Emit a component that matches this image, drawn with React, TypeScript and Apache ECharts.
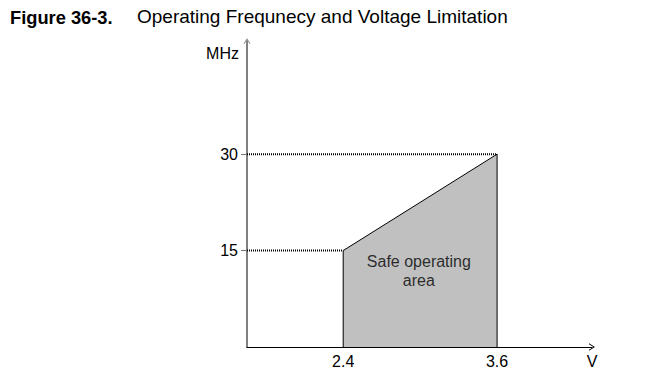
import React, { useEffect, useRef } from "react";
import * as echarts from "echarts";

const titleBold = "Figure 36-3.";
const titleText = "Operating Frequnecy and Voltage Limitation";
const yAxisName = "MHz";
const xAxisName = "V";
const voltageTicks = [2.4, 3.6];
const freqTicks = [15, 30];
const safeAreaVoltage = [2.4, 2.4, 3.6, 3.6];
const safeAreaFreq = [0, 15, 30, 0];
const areaLabel = "Safe operating\narea";
const areaLabelPos = [2.99, 11.9];
const xMin = 1.65;
const xMax = 4.34;
const yMin = 0;
const yMax = 47.6;

const FONT = "'Liberation Sans', Arial, sans-serif";
const CHEVRON = "path://M5,0 L10,8 L8.6,8 L5,2.2 L1.4,8 L0,8 Z";

export default function App() {
  const ref = useRef<HTMLDivElement>(null);
  useEffect(() => {
    if (!ref.current) return;
    const chart = echarts.init(ref.current, null, { renderer: "svg" });
    const polygon = safeAreaVoltage.map((v, i) => [v, safeAreaFreq[i]]);
    chart.setOption({
      animation: false,
      backgroundColor: "#ffffff",
      textStyle: { fontFamily: FONT },
      title: [
        {
          text: titleBold,
          left: 10,
          top: 8,
          padding: 0,
          textStyle: { fontFamily: FONT, fontWeight: "bold", fontSize: 18.3, color: "#000" },
        },
        {
          text: titleText,
          left: 137,
          top: 7,
          padding: 0,
          textStyle: { fontFamily: FONT, fontWeight: "normal", fontSize: 19, color: "#000" },
        },
      ],
      grid: { left: 247, right: 64, top: 41, bottom: 34, containLabel: false },
      xAxis: {
        type: "value",
        min: xMin,
        max: xMax,
        name: xAxisName,
        nameLocation: "end",
        nameGap: 0,
        nameTextStyle: {
          fontFamily: FONT,
          fontSize: 16,
          color: "#000",
          align: "center",
          verticalAlign: "top",
          padding: [6, 0, 0, 0],
        },
        splitLine: { show: false },
        axisTick: { show: false },
        axisLine: {
          show: true,
          lineStyle: { color: "#000", width: 1 },
          symbol: ["none", CHEVRON],
          symbolSize: [8, 6],
        },
        axisLabel: {
          customValues: voltageTicks,
          formatter: (v: number) => v.toFixed(1),
          fontFamily: FONT,
          fontSize: 16,
          color: "#000",
          margin: 6,
        },
      },
      yAxis: {
        type: "value",
        min: yMin,
        max: yMax,
        name: yAxisName,
        nameLocation: "end",
        nameGap: -12,
        nameTextStyle: {
          fontFamily: FONT,
          fontSize: 16,
          color: "#000",
          align: "right",
          verticalAlign: "middle",
          padding: [0, 8, 0, 0],
        },
        splitLine: { show: false },
        axisTick: {
          show: true,
          customValues: freqTicks,
          length: 6,
          lineStyle: { color: "#777", width: 1 },
        },
        axisLine: {
          show: true,
          lineStyle: { color: "#808080", width: 2 },
          symbol: ["none", CHEVRON],
          symbolSize: [7, 6],
        },
        axisLabel: {
          customValues: freqTicks,
          fontFamily: FONT,
          fontSize: 16,
          color: "#000",
          margin: 9,
        },
      },
      series: [
        {
          type: "line",
          data: polygon,
          symbol: "none",
          lineStyle: { color: "#000", width: 1 },
          areaStyle: { color: "#c0c0c0", opacity: 1 },
          z: 2,
        },
        {
          type: "line",
          data: [
            [xMin, safeAreaFreq[2]],
            [safeAreaVoltage[2], safeAreaFreq[2]],
          ],
          symbol: "none",
          lineStyle: { color: "#000", width: 2, type: [1, 1] },
          z: 3,
        },
        {
          type: "line",
          data: [
            [xMin, safeAreaFreq[1]],
            [safeAreaVoltage[1], safeAreaFreq[1]],
          ],
          symbol: "none",
          lineStyle: { color: "#000", width: 2, type: [1, 1] },
          z: 3,
        },
        {
          type: "scatter",
          data: [areaLabelPos],
          symbolSize: 0,
          label: {
            show: true,
            position: "inside",
            formatter: areaLabel,
            fontFamily: FONT,
            fontSize: 16,
            lineHeight: 19,
            color: "#000",
            align: "center",
          },
          z: 4,
        },
      ],
    });
    return () => chart.dispose();
  }, []);
  return (
    <div
      ref={ref}
      style={{ position: "fixed", left: 0, top: 0, width: 656, height: 381 }}
    />
  );
}
